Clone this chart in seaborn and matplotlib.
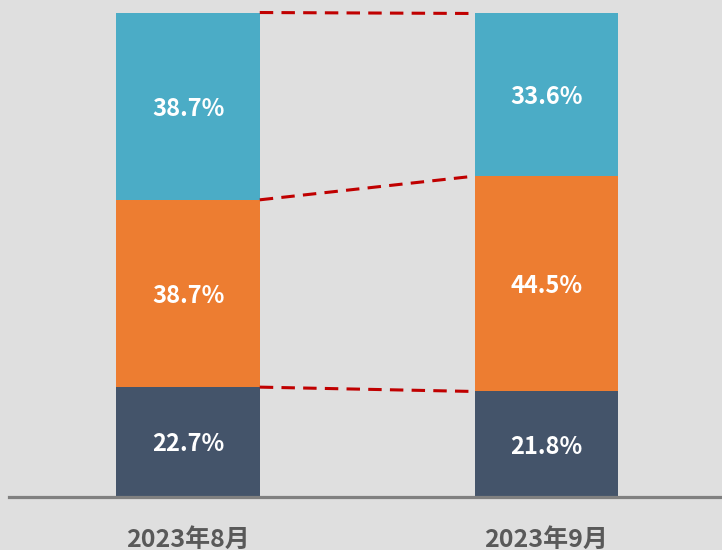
import numpy as np
import pandas as pd
import matplotlib
matplotlib.use("Agg")
import matplotlib.pyplot as plt
import seaborn as sns

# Дані
months = ["2023年8月", "2023年9月"]
bottom_share = [22.7, 21.8]   # темно-синій
middle_share = [38.7, 44.5]   # помаранчевий
top_share = [38.7, 33.6]      # бірюзовий

colors = ["#44546A", "#ED7D31", "#4BACC6"]
bg = "#DFDFDF"

sns.set_theme(style="white")
plt.rcParams['font.family'] = ['Noto Sans CJK SC', 'DejaVu Sans']

layers = [bottom_share, middle_share, top_share]
cum = np.cumsum(np.array(layers), axis=0)  # накопичені межі

fig = plt.figure(figsize=(7.22, 5.5), dpi=100, facecolor=bg)
ax = fig.add_axes([9 / 722, 53 / 550, 1 - 9 / 722, 484 / 550])
ax.set_facecolor(bg)

# стек: малюємо від найвищого накопиченого до найнижчого
for i in reversed(range(3)):
    df = pd.DataFrame({"month": months, "value": cum[i]})
    sns.barplot(data=df, x="month", y="value", color=colors[i],
                saturation=1, width=0.4, ax=ax, edgecolor="none")

# підписи у сегментах
for j in range(2):
    base = 0
    for i in range(3):
        v = layers[i][j]
        ax.text(j, base + v / 2 - 0.5, f"{v:.1f}%", ha="center", va="center",
                color="white", fontsize=17, fontweight="bold")
        base += v

# пунктирні лінії між межами
for i in range(3):
    ax.plot([0.2, 0.8], [cum[i][0], cum[i][1]], color="#C00000",
            linestyle=(0, (4.4, 2.7)), linewidth=2.2, zorder=3, clip_on=False)

ax.set_xlim(-0.5, 1 + (722 - 546.5) / 358)
ax.set_ylim(0, 100)
ax.set_xlabel("")
ax.set_ylabel("")
ax.set_yticks([])
for s in ["top", "right", "left"]:
    ax.spines[s].set_visible(False)
ax.spines["bottom"].set_color("#808080")
ax.spines["bottom"].set_linewidth(2.3)
ax.tick_params(axis="x", length=0, pad=22, labelsize=18, labelcolor="#595959")
for lbl in ax.get_xticklabels():
    lbl.set_fontweight("bold")

fig.savefig("out.png", dpi=100, facecolor=bg)
plt.close(fig)
